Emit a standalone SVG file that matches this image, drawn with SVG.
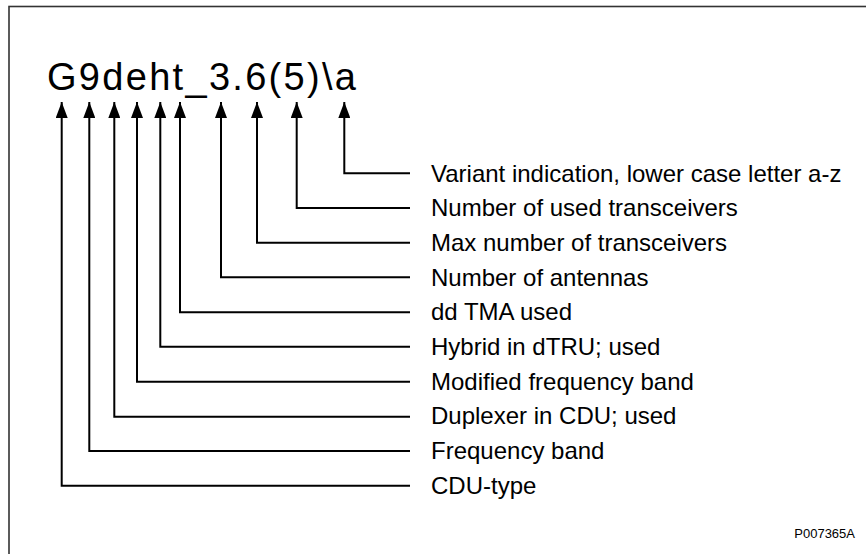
<svg xmlns="http://www.w3.org/2000/svg" width="866" height="554" viewBox="0 0 866 554">
<defs>
<style>
.lbl{font-family:"Liberation Sans",Arial,sans-serif;font-size:24px;fill:#000}
.ttl{font-family:"Liberation Sans",Arial,sans-serif;font-size:38px;letter-spacing:2.3px;fill:#000}
.ref{font-family:"Liberation Sans",Arial,sans-serif;font-size:13px;fill:#000}
.con{fill:none;stroke:#000;stroke-width:2;marker-start:url(#ah)}
</style>
<marker id="ah" viewBox="0 0 16 12" refX="0" refY="6" markerWidth="16" markerHeight="12" markerUnits="userSpaceOnUse" orient="auto">
<path d="M0,6 L16,0 L16,12 Z" fill="#000"/>
</marker>
</defs>
<rect x="9" y="6.5" width="870" height="560" fill="#fff" stroke="#333" stroke-width="1.6"/>
<g id="title"><text class="ttl" x="47" y="90">G9deht_3.6(5)\a</text></g>
<g id="connectors">
<path class="con" d="M344.3,102 V173.3 H410"/>
<path class="con" d="M296.7,102 V208 H410"/>
<path class="con" d="M257,102 V242.7 H410"/>
<path class="con" d="M221,102 V277.3 H410"/>
<path class="con" d="M180,102 V312.3 H410"/>
<path class="con" d="M160.3,102 V346.7 H410"/>
<path class="con" d="M137,102 V381.7 H410"/>
<path class="con" d="M114.3,102 V416.7 H410"/>
<path class="con" d="M89.3,102 V451 H410"/>
<path class="con" d="M61.7,102 V485.7 H410"/>
</g>
<g id="l1"><text class="lbl" x="431" y="181.5">Variant indication, lower case letter a-z</text></g>
<g id="l2"><text class="lbl" x="431" y="216.2">Number of used transceivers</text></g>
<g id="l3"><text class="lbl" x="431" y="250.9">Max number of transceivers</text></g>
<g id="l4"><text class="lbl" x="431" y="285.6">Number of antennas</text></g>
<g id="l5"><text class="lbl" x="431" y="320.3">dd TMA used</text></g>
<g id="l6"><text class="lbl" x="431" y="355">Hybrid in dTRU; used</text></g>
<g id="l7"><text class="lbl" x="431" y="389.7">Modified frequency band</text></g>
<g id="l8"><text class="lbl" x="431" y="424.4">Duplexer in CDU; used</text></g>
<g id="l9"><text class="lbl" x="431" y="459.1">Frequency band</text></g>
<g id="l10"><text class="lbl" x="431" y="493.8">CDU-type</text></g>
<g id="ref"><text class="ref" x="855" y="538" text-anchor="end">P007365A</text></g>
</svg>
